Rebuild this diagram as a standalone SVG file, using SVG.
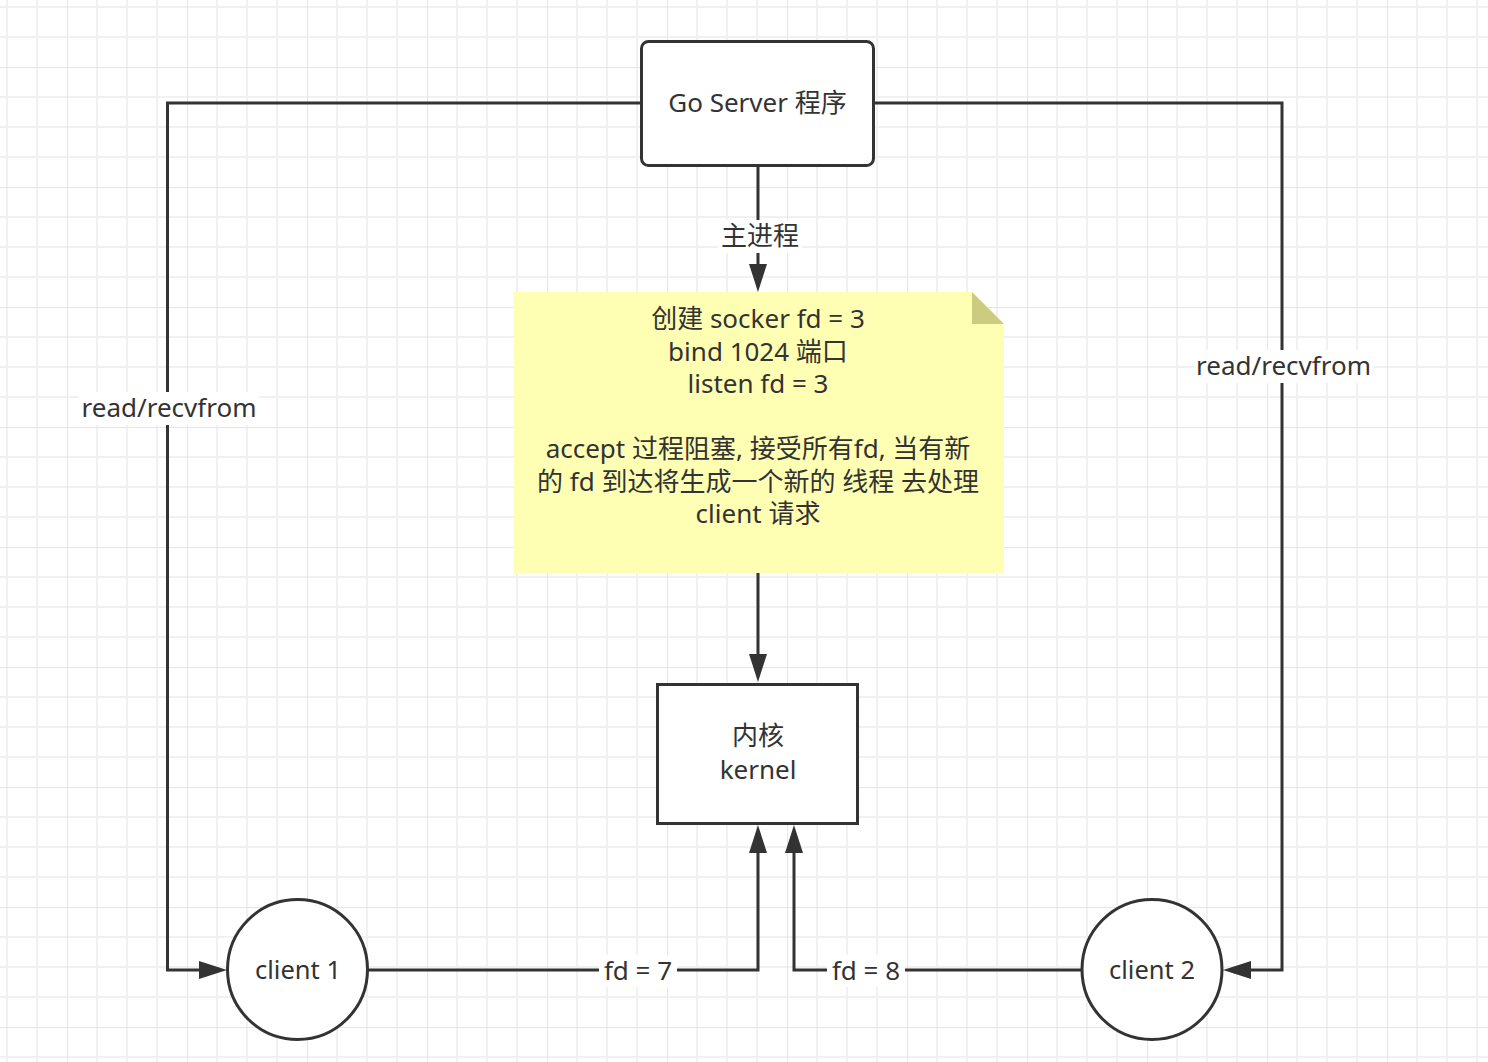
<svg xmlns="http://www.w3.org/2000/svg" width="1488" height="1062" viewBox="0 0 1488 1062">
<style>
.t{font-family:"Noto Sans","Noto Sans CJK SC",sans-serif;font-size:26px;fill:#333;text-anchor:middle}
.c{font-size:25.5px}
.ln{fill:none;stroke:#333;stroke-width:3}
.shape{fill:#fff;stroke:#333;stroke-width:3}
.lb{fill:#fff}
</style>
<defs>
<pattern id="grid" x="67" y="67" width="120" height="120" patternUnits="userSpaceOnUse">
<path d="M30,0V120M60,0V120M90,0V120M0,30H120M0,60H120M0,90H120" stroke="#f1f1f1" stroke-width="2" fill="none"/>
<path d="M0,0V120M0,0H120" stroke="#e6e6e6" stroke-width="2" fill="none"/>
</pattern>
<marker id="arr" viewBox="0 0 28 18" refX="0" refY="9" markerWidth="28" markerHeight="18" markerUnits="userSpaceOnUse" orient="auto">
<path d="M0,0L28,9L0,18z" fill="#333"/>
</marker>
</defs>
<rect width="1488" height="1062" fill="#fff"/>
<rect width="1488" height="1062" fill="url(#grid)"/>
<g id="connectors">
<path class="ln" d="M641,103H167.5V970H199" marker-end="url(#arr)"/>
<path class="ln" d="M874,103H1282V970H1251" marker-end="url(#arr)"/>
<path class="ln" d="M758,166V264" marker-end="url(#arr)"/>
<path class="ln" d="M758,573V654" marker-end="url(#arr)"/>
<path class="ln" d="M368,970H758V853" marker-end="url(#arr)"/>
<path class="ln" d="M1082,970H794V853" marker-end="url(#arr)"/>
<rect class="lb" x="79" y="392" width="180" height="33"/>
<text class="t" x="169" y="417">read/recvfrom</text>
<rect class="lb" x="1194" y="350" width="180" height="33"/>
<text class="t" x="1283.5" y="375">read/recvfrom</text>
<rect class="lb" x="718" y="220" width="84" height="33"/>
<text class="t" x="760" y="245">主进程</text>
<rect class="lb" x="599" y="955" width="78" height="32"/>
<text class="t" x="638" y="980">fd = 7</text>
<rect class="lb" x="827" y="955" width="78" height="32"/>
<text class="t" x="866" y="980">fd = 8</text>
</g>
<g id="go-server">
<rect class="shape" x="641.5" y="41.5" width="232" height="124" rx="7"/>
<text class="t" x="757.5" y="112">Go Server 程序</text>
</g>
<g id="note">
<path d="M514,292H972L1004,324V573H514z" fill="#ffffb3"/>
<path d="M972,292V324H1004z" fill="#cccc80"/>
<text class="t" x="758" y="328">创建 socker fd = 3</text>
<text class="t" x="758" y="360.5">bind 1024 端口</text>
<text class="t" x="758" y="393">listen fd = 3</text>
<text class="t" x="758" y="458">accept 过程阻塞, 接受所有fd, 当有新</text>
<text class="t" x="758" y="490.5">的 fd 到达将生成一个新的 线程 去处理</text>
<text class="t" x="758" y="523">client 请求</text>
</g>
<g id="kernel">
<rect class="shape" x="657.5" y="684.5" width="200" height="139"/>
<text class="t" x="758" y="745">内核</text>
<text class="t" x="758" y="779">kernel</text>
</g>
<g id="client1">
<circle class="shape" cx="297.5" cy="969.5" r="70"/>
<text class="t c" x="298" y="979">client 1</text>
</g>
<g id="client2">
<circle class="shape" cx="1152" cy="969.5" r="70"/>
<text class="t c" x="1152" y="979">client 2</text>
</g>
</svg>
